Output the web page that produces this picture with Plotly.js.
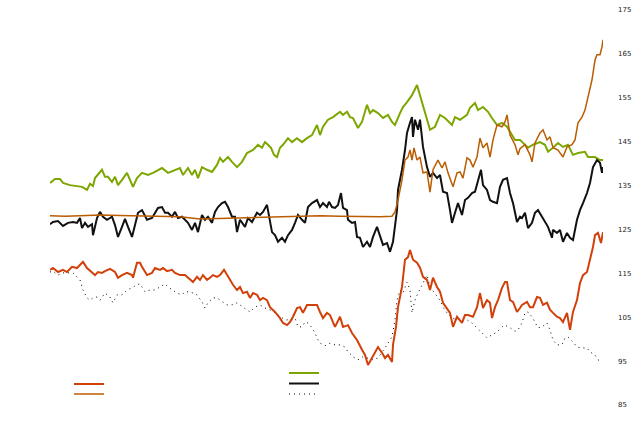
<!DOCTYPE html>
<html>
<head>
<meta charset="utf-8">
<script src="https://cdn.plot.ly/plotly-3.0.1.min.js"></script>
<style>
html,body{margin:0;padding:0;background:#fff;}
#chart{width:641px;height:421px;}
</style>
</head>
<body>
<div id="chart"></div>
<script>
// time index (weeks) and values
var greenT = [0,5,10,13,20,27,32,37,40,43,45,52,55,58,62,65,68,72,77,83,87,92,98,103,112,118,125,130,133,138,142,145,148,152,157,162,167,170,173,178,182,187,192,197,203,208,212,215,218,221,224,227,230,233,238,242,247,252,257,262,267,270,273,278,283,290,293,297,300,303,308,312,317,320,323,328,333,338,342,345,350,353,357,362,367,370,373,377,380,385,390,395,402,405,410,417,420,425,428,433,438,442,447,452,457,462,465,470,478,483,490,495,498,503,508,513,518,523,528,535,538,545,550,553];
var greenV = [135.6,136.5,136.5,135.6,135.1,134.9,134.7,134.0,135.4,134.9,136.7,138.6,137.0,137.0,135.8,137.0,135.1,136.3,137.9,134.7,136.7,137.9,137.4,137.9,139.0,137.9,138.6,139.0,137.4,139.0,137.4,138.6,136.7,139.2,138.6,138.1,139.7,141.3,140.4,141.5,140.4,139.2,140.4,142.4,143.1,144.3,143.6,144.9,144.3,143.6,142.0,141.5,143.6,144.3,145.8,144.9,145.8,144.9,145.8,146.5,148.8,146.5,148.4,150.0,150.6,151.8,151.1,151.8,150.6,150.4,148.1,149.5,153.4,151.5,152.2,151.5,150.4,151.1,149.5,148.8,151.5,152.9,154.0,155.6,157.9,155.6,152.9,150.4,147.7,148.4,151.1,150.4,148.8,150.6,150.0,151.1,152.7,153.8,152.2,152.9,151.8,150.4,148.8,149.3,148.4,146.5,145.4,145.4,143.6,144.3,144.9,144.3,142.7,143.6,144.7,143.8,144.3,142.0,142.4,142.7,141.5,141.5,140.8,140.8];

var orangeT = [0,15,30,50,70,90,110,130,150,165,180,210,240,270,290,310,330,342,345,348,352,355,358,360,362,364,367,370,373,377,380,383,388,392,395,398,403,407,410,413,417,420,423,427,430,433,437,440,443,447,452,455,457,460,465,468,470,475,480,482,485,490,493,497,500,503,508,513,517,522,525,528,532,535,538,542,545,547,550,552,553];
var orangeV = [128.1,128.0,128.1,128.3,128.2,128.1,128.0,127.9,127.4,127.5,127.6,127.8,127.9,128.1,128.0,127.9,127.9,128.0,129.0,131.7,136.3,140.8,141.5,143.1,140.8,143.6,140.8,141.5,137.9,138.1,133.5,138.6,140.8,139.0,140.4,137.9,134.7,137.9,138.1,136.7,141.3,140.8,139.2,141.5,145.8,143.6,144.7,141.5,145.4,148.8,148.4,149.5,151.1,146.5,144.3,142.0,143.4,144.3,142.0,140.4,144.7,147.0,147.7,145.4,146.1,143.6,143.1,141.5,143.8,144.3,145.4,149.3,150.6,152.2,155.2,159.1,163.6,164.8,164.8,166.6,168.2];

var blackT = [0,3,8,13,18,23,27,30,32,35,38,42,43,47,50,53,57,62,65,68,72,75,78,82,85,88,92,97,102,108,112,115,118,122,125,128,132,135,138,142,145,148,152,155,158,162,165,168,172,175,178,182,185,187,190,195,198,202,207,210,213,217,220,222,225,228,232,235,238,242,245,248,252,255,258,262,267,270,273,277,279,282,285,288,291,293,297,298,302,305,307,310,313,317,320,323,327,330,333,337,340,343,345,347,348,352,355,357,360,362,363,365,368,370,373,377,380,383,387,390,393,397,400,402,405,408,412,415,418,422,425,428,431,433,437,440,443,447,450,453,457,460,463,467,470,472,475,478,482,485,488,492,495,498,502,503,507,510,513,517,520,523,527,530,533,537,540,543,547,550,552,553];
var blackV = [126.2,126.7,126.9,125.8,126.5,126.7,126.5,127.6,125.3,126.5,125.6,126.2,123.7,127.6,129.0,127.9,127.2,127.9,126.0,123.3,125.6,127.4,125.6,123.3,126.0,128.8,129.4,127.2,127.6,129.9,130.1,128.8,128.8,127.9,129.0,127.6,127.9,127.2,126.5,124.9,126.5,124.4,128.3,127.2,127.9,126.5,129.0,130.1,131.0,131.3,130.1,127.9,127.9,124.4,127.2,125.6,127.6,126.7,128.8,128.3,129.0,130.6,127.2,124.4,123.7,122.2,123.1,122.2,123.7,124.9,126.5,128.3,127.2,126.5,130.1,131.0,131.7,130.1,131.0,130.1,131.3,130.1,129.9,130.6,133.3,129.9,129.4,127.2,126.5,126.7,123.3,123.1,121.0,122.2,121.0,123.3,125.6,123.3,121.5,121.9,119.9,122.2,125.6,129.4,134.0,138.6,143.1,147.0,149.3,150.6,146.1,150.0,147.7,150.0,143.8,139.2,137.0,137.9,136.7,137.4,133.6,133.3,129.4,126.5,128.8,131.0,128.3,131.7,132.2,133.3,133.6,136.3,138.6,135.1,134.0,131.7,131.3,131.0,134.7,136.3,136.7,133.3,131.0,126.7,127.9,127.6,128.8,125.3,126.5,128.8,129.4,127.9,126.7,125.6,123.1,124.9,124.2,124.9,122.2,124.2,123.1,122.6,127.2,129.4,131.0,133.3,135.6,139.2,140.8,140.2,137.9,139.2];

var redT = [0,3,8,13,17,22,27,33,37,42,45,48,52,55,60,65,68,72,77,82,83,87,90,92,97,102,105,110,113,117,122,125,130,135,140,143,147,150,153,157,160,163,167,170,174,178,183,187,190,193,197,200,203,207,210,213,217,220,225,230,233,237,240,243,247,250,253,257,262,267,270,273,277,280,285,290,293,298,302,307,312,315,318,322,325,328,332,335,338,342,343,346,348,352,355,358,360,363,367,370,373,377,380,383,387,390,393,397,400,403,407,412,415,418,423,427,430,433,437,440,442,445,448,452,455,457,460,463,467,470,472,477,480,483,487,490,493,497,500,503,507,510,513,517,520,523,527,530,533,537,540,543,545,548,551,553];
var redV = [115.8,116.2,115.3,115.8,115.3,116.5,116.2,117.6,116.2,115.3,114.6,115.3,115.1,115.5,116.0,115.3,114.0,114.6,115.1,114.6,114.0,117.4,117.4,116.5,114.6,115.1,116.2,115.8,116.2,115.5,115.8,115.1,114.6,114.6,113.5,113.0,114.2,113.5,114.6,113.5,114.0,114.6,114.2,114.6,115.8,114.2,112.4,111.2,111.9,110.5,110.8,109.4,110.5,110.1,108.9,109.4,108.9,107.3,106.2,104.8,103.7,103.2,103.9,105.1,107.1,107.3,106.0,107.8,107.8,107.8,106.2,104.8,106.0,105.5,102.8,105.1,102.8,103.2,101.4,99.8,97.6,96.4,94.1,95.7,97.1,98.2,96.9,95.7,96.4,94.8,98.7,102.8,107.3,111.9,118.1,118.7,120.3,118.1,117.4,116.3,114.2,113.5,111.2,114.0,111.9,110.8,108.3,107.1,106.0,102.8,105.1,103.7,105.5,105.5,105.1,107.3,110.5,107.1,108.9,108.3,104.8,107.3,108.9,111.7,113.0,113.0,108.9,108.5,106.2,107.1,107.8,108.5,107.3,107.3,109.6,109.4,107.8,108.3,106.7,106.0,105.1,104.8,103.9,106.0,102.1,106.2,108.9,112.8,114.6,115.3,118.1,121.0,123.7,124.2,121.9,124.4];

var dotT = [0,3,8,13,18,23,27,30,33,37,40,43,47,50,55,60,63,67,72,77,82,87,90,95,100,105,110,115,118,123,127,132,135,140,143,147,152,155,158,163,167,172,177,182,187,193,200,205,210,215,220,225,230,235,240,245,248,252,255,258,262,265,268,272,275,280,285,290,295,298,303,308,313,318,323,328,332,335,338,342,345,347,350,353,357,360,362,365,368,372,377,380,385,390,393,397,402,407,412,417,422,427,432,437,442,447,452,455,460,465,468,472,475,478,482,485,488,492,497,500,503,507,512,515,518,523,527,532,537,540,545,548,552];
var dotV = [115.3,115.5,114.6,115.1,115.1,115.1,114.2,113.5,111.2,109.4,108.9,109.4,109.6,108.9,110.5,109.6,108.3,110.1,110.1,111.2,111.7,112.4,112.6,110.8,111.2,111.2,111.9,112.6,111.9,111.2,110.5,110.1,110.8,110.8,110.5,110.1,108.5,107.1,108.3,109.4,109.4,108.5,107.8,107.8,108.3,107.3,106.2,107.3,107.8,107.1,106.7,106.0,105.1,104.4,104.4,104.8,102.8,102.8,103.9,103.7,102.6,101.4,99.8,98.7,98.5,99.1,98.7,98.7,98.2,97.1,96.0,95.3,96.0,95.7,95.3,95.7,96.9,98.0,99.1,100.5,104.4,108.9,111.2,110.5,113.0,111.2,106.0,108.9,110.5,112.5,114.6,111.9,110.5,108.9,107.3,106.0,104.8,104.4,104.8,104.4,103.7,102.6,101.4,100.3,101.0,101.6,102.8,103.2,102.6,101.8,102.1,103.7,106.0,106.2,105.1,103.9,102.6,102.8,103.7,102.1,99.8,98.7,98.7,100.3,100.5,99.4,98.2,98.0,98.0,97.1,96.4,95.3,94.8];

var yTicks = [85,95,105,115,125,135,145,155,165,175];

var traces = [
  {x: dotT, y: dotV, type: 'scatter', mode: 'lines', name: '', legend: 'legend5',
   line: {color: '#000000', width: 1, dash: '1px,4px'}},
  {x: greenT, y: greenV, type: 'scatter', mode: 'lines', name: '', legend: 'legend3',
   line: {color: '#7DA600', width: 2}},
  {x: blackT, y: blackV, type: 'scatter', mode: 'lines', name: '', legend: 'legend4',
   line: {color: '#111111', width: 2}},
  {x: redT, y: redV, type: 'scatter', mode: 'lines', name: '', legend: 'legend',
   line: {color: '#D2400A', width: 2}},
  {x: orangeT, y: orangeV, type: 'scatter', mode: 'lines', name: '', legend: 'legend2',
   line: {color: '#BA5C00', width: 1.5}}
];

function px2x(p){ return (p - 50) / 553; }
function py2y(p){ return (405 - p) / 395; }
function leg(xp, yp){
  return {x: px2x(xp), y: py2y(yp), xanchor: 'left', yanchor: 'middle',
          bgcolor: 'rgba(0,0,0,0)', borderwidth: 0, font: {size: 2}};
}

var layout = {
  width: 641, height: 421,
  margin: {l: 50, r: 38, t: 10, b: 16, pad: 0},
  paper_bgcolor: '#ffffff', plot_bgcolor: '#ffffff',
  showlegend: true,
  legend: leg(69, 384),
  legend2: leg(69, 394),
  legend3: leg(284, 373),
  legend4: leg(284, 383.5),
  legend5: leg(284, 394),
  xaxis: {range: [0, 553], visible: false, showgrid: false, zeroline: false},
  yaxis: {range: [85, 175], side: 'right', tickvals: yTicks, ticktext: yTicks.map(String),
          showgrid: false, zeroline: false, showline: false, ticks: '',
          ticklabelstandoff: 14,
          tickfont: {family: 'DejaVu Sans', size: 7, color: '#222222'}},
  font: {family: 'DejaVu Sans'}
};

Plotly.newPlot('chart', traces, layout, {displayModeBar: false, staticPlot: true});
</script>
</body>
</html>
